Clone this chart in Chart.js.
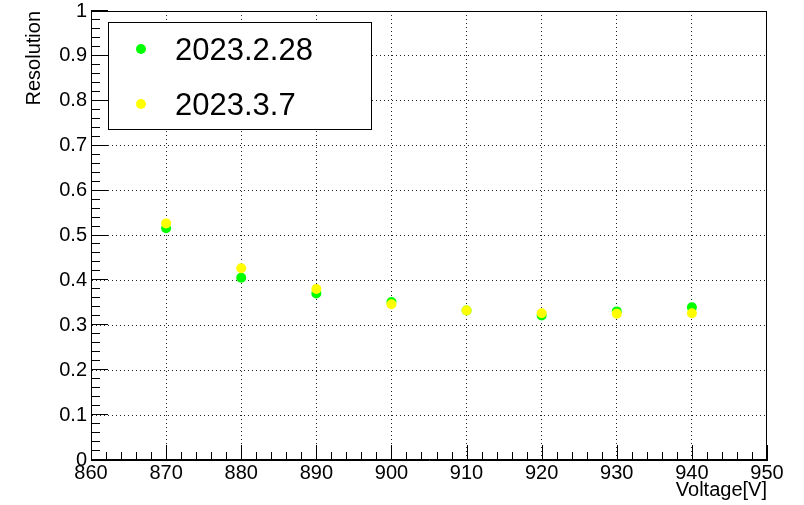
<!DOCTYPE html>
<html>
<head>
<meta charset="utf-8">
<script src="https://cdn.jsdelivr.net/npm/chart.js@4.4.1/dist/chart.umd.min.js"></script>
<style>
    html, body { margin: 0; padding: 0; background: #fff; }
    #wrap { width: 804px; height: 505px; position: relative; }
</style>
</head>
<body>
<div id="wrap"><canvas id="resolutionChart"></canvas></div>
<script>
// data
const voltages = [870, 880, 890, 900, 910, 920, 930, 940];
const resFeb28 = [0.516, 0.406, 0.371, 0.352, 0.333, 0.322, 0.331, 0.340];
const resMar7 = [0.527, 0.427, 0.381, 0.347, 0.333, 0.327, 0.326, 0.327];
const seriesLabels = ['2023.2.28', '2023.3.7'];
const seriesColors = ['#00ff00', '#ffff00'];
const xTicks = [860, 870, 880, 890, 900, 910, 920, 930, 940, 950];
const yTicks = [0, 0.1, 0.2, 0.3, 0.4, 0.5, 0.6, 0.7, 0.8, 0.9, 1];

document.addEventListener("DOMContentLoaded", function () {
    const canvas = document.getElementById('resolutionChart');
    Chart.defaults.font.family = "'Liberation Sans', Arial, sans-serif";
    Chart.defaults.color = '#000';

    const toPoints = (ys) => voltages.map((v, i) => ({ x: v, y: ys[i] }));
    const isEdge = (ctx, list) => ctx.index === 0 || ctx.index === list.length - 1;

    // ROOT-like frame: white background, box, inward major/minor ticks, legend box
    const rootFrame = {
        id: 'rootFrame',
        beforeDraw(chart) {
            const c = chart.ctx;
            c.save();
            c.fillStyle = '#fff';
            c.fillRect(0, 0, chart.width, chart.height);
            c.restore();
        },
        afterDatasetsDraw(chart) {
            const c = chart.ctx;
            const a = chart.chartArea;
            const xs = chart.scales.x, ys = chart.scales.y;
            c.save();
            c.strokeStyle = '#000';
            c.lineWidth = 1;
            // frame
            c.strokeRect(Math.round(a.left) + 0.5, Math.round(a.top) + 0.5,
                Math.round(a.right - a.left) - 1, Math.round(a.bottom - a.top) - 1);
            c.beginPath();
            // x ticks
            for (let i = 0; i < xTicks.length; i++) {
                const px = Math.round(xs.getPixelForValue(xTicks[i])) + 0.5;
                c.moveTo(px, a.bottom); c.lineTo(px, a.bottom - 15);
                if (i < xTicks.length - 1) {
                    for (let k = 1; k < 5; k++) {
                        const v = xTicks[i] + (xTicks[i + 1] - xTicks[i]) * k / 5;
                        const mx = Math.round(xs.getPixelForValue(v)) + 0.5;
                        c.moveTo(mx, a.bottom); c.lineTo(mx, a.bottom - 8);
                    }
                }
            }
            // y ticks
            for (let i = 0; i < yTicks.length; i++) {
                const py = Math.round(ys.getPixelForValue(yTicks[i])) - 0.5;
                c.moveTo(a.left, py); c.lineTo(a.left + 17, py);
                if (i < yTicks.length - 1) {
                    for (let k = 1; k < 5; k++) {
                        const v = yTicks[i] + (yTicks[i + 1] - yTicks[i]) * k / 5;
                        const my = Math.round(ys.getPixelForValue(v)) - 0.5;
                        c.moveTo(a.left, my); c.lineTo(a.left + 9, my);
                    }
                }
            }
            c.stroke();

            // legend box
            c.fillStyle = '#fff';
            c.fillRect(108, 22, 264, 108);
            c.strokeRect(108.5, 22.5, 263, 107);
            const rows = [49, 104];
            chart.data.datasets.forEach((ds, i) => {
                c.fillStyle = ds.backgroundColor;
                c.beginPath();
                c.arc(141, rows[i], 5, 0, Math.PI * 2);
                c.fill();
                c.fillStyle = '#000';
                c.font = "31px 'Liberation Sans', Arial, sans-serif";
                c.textBaseline = 'alphabetic';
                c.textAlign = 'left';
                c.fillText(ds.label, 175, rows[i] + 11);
            });
            c.restore();
        }
    };

    new Chart(canvas, {
        type: 'scatter',
        data: {
            datasets: [{
                label: seriesLabels[0],
                data: toPoints(resFeb28),
                backgroundColor: seriesColors[0],
                borderColor: seriesColors[0],
                pointRadius: 5,
                borderWidth: 0,
                order: 2
            }, {
                label: seriesLabels[1],
                data: toPoints(resMar7),
                backgroundColor: seriesColors[1],
                borderColor: seriesColors[1],
                pointRadius: 5,
                borderWidth: 0,
                order: 1
            }]
        },
        options: {
            responsive: true,
            maintainAspectRatio: false,
            animation: false,
            layout: { padding: { top: 11, right: 37, left: 0, bottom: 0 } },
            scales: {
                x: {
                    type: 'linear',
                    min: 860,
                    max: 950,
                    afterBuildTicks: (s) => { s.ticks = xTicks.map(v => ({ value: v })); },
                    afterFit: (s) => { s.height = 45; s.paddingLeft = 0; s.paddingRight = 0; },
                    ticks: {
                        autoSkip: false,
                        maxRotation: 0,
                        padding: 1,
                        font: { size: 20 },
                        callback: (v) => String(v)
                    },
                    grid: {
                        drawTicks: false,
                        color: (ctx) => isEdge(ctx, xTicks) ? 'rgba(0,0,0,0)' : '#222'
                    },
                    border: { display: true, color: '#000', width: 1, dash: [1, 3] },
                    title: {
                        display: true,
                        text: 'Voltage[V]',
                        align: 'end',
                        font: { size: 20, lineHeight: 1 },
                        padding: { top: 0, bottom: 5 }
                    }
                },
                y: {
                    type: 'linear',
                    min: 0,
                    max: 1,
                    afterBuildTicks: (s) => { s.ticks = yTicks.map(v => ({ value: v })); },
                    afterFit: (s) => { s.width = 91; s.paddingTop = 0; s.paddingBottom = 0; },
                    ticks: {
                        autoSkip: false,
                        padding: 4,
                        font: { size: 20 },
                        callback: (v) => String(Math.round(v * 10) / 10)
                    },
                    grid: {
                        drawTicks: false,
                        color: (ctx) => isEdge(ctx, yTicks) ? 'rgba(0,0,0,0)' : '#222'
                    },
                    border: { display: true, color: '#000', width: 1, dash: [1, 3] },
                    title: {
                        display: true,
                        text: 'Resolution',
                        align: 'end',
                        font: { size: 20, lineHeight: 1 },
                        padding: { top: 24, bottom: 0 }
                    }
                }
            },
            plugins: {
                legend: { display: false },
                tooltip: { enabled: false }
            }
        },
        plugins: [rootFrame]
    });
});
</script>
</body>
</html>
